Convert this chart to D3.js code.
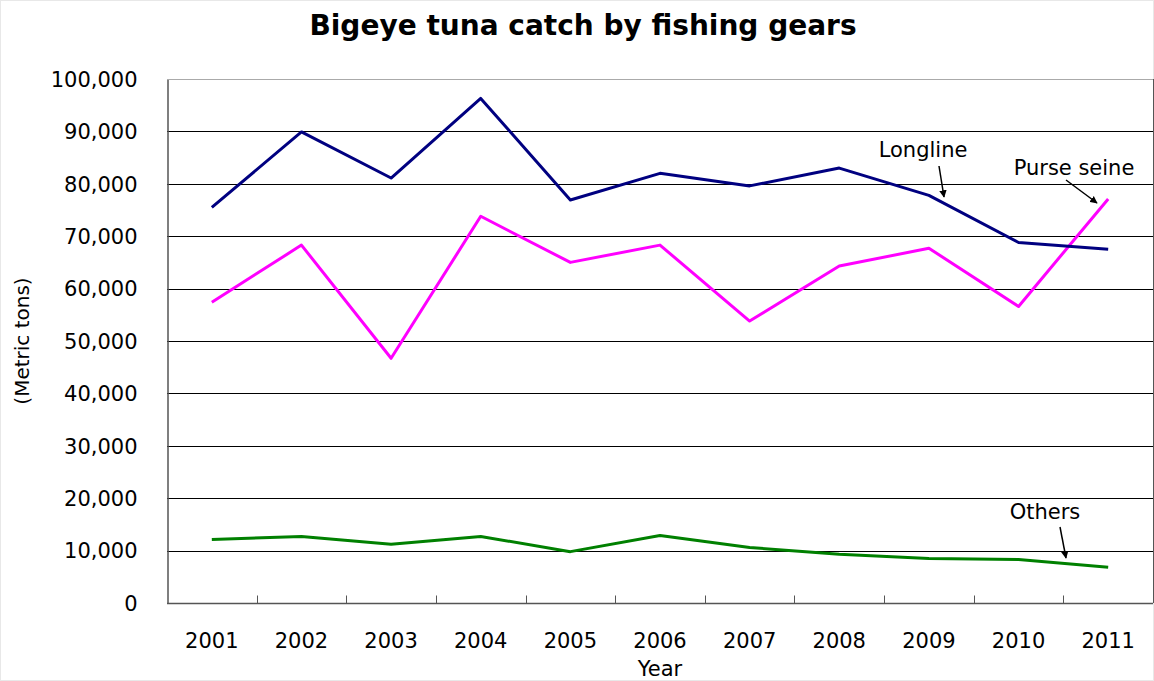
<!DOCTYPE html>
<html>
<head>
<meta charset="utf-8">
<script src="https://cdn.jsdelivr.net/npm/d3@7"></script>
<style>
  body { margin: 0; background: #fff; }
  text { font-family: "DejaVu Sans", sans-serif; fill: #000; }
</style>
</head>
<body>
<svg id="chart" width="1154" height="681"></svg>
<script>
const years = ["2001", "2002", "2003", "2004", "2005", "2006", "2007", "2008", "2009", "2010", "2011"];
const longline = [75500, 89900, 81100, 96300, 76900, 82000, 79600, 83000, 77800, 68800, 67500];
const purseSeine = [57400, 68300, 46700, 73800, 65000, 68300, 53800, 64300, 67700, 56600, 77100];
const others = [12100, 12700, 11200, 12700, 9800, 12900, 10600, 9300, 8500, 8300, 6800];
const yTicks = [0, 10000, 20000, 30000, 40000, 50000, 60000, 70000, 80000, 90000, 100000];

const svg = d3.select("#chart");
const plotL = 167, plotR = 1153, plotT = 79, plotB = 603;

const x = d3.scaleBand().domain(years).range([plotL, plotR]);
const y = d3.scaleLinear().domain([0, 100000]).range([plotB, plotT]);

// outer frame
svg.append("rect")
  .attr("x", 0.5).attr("y", 0.5).attr("width", 1153).attr("height", 680)
  .attr("fill", "none").attr("stroke", "#e8e8e8");

svg.append("text")
  .attr("x", 583).attr("y", 35)
  .attr("text-anchor", "middle")
  .style("font-size", "28px").style("font-weight", "bold")
  .text("Bigeye tuna catch by fishing gears");

// gridlines
svg.append("g")
  .selectAll("line")
  .data(yTicks.filter(d => d > 0))
  .enter().append("line")
  .attr("x1", plotL).attr("x2", plotR)
  .attr("y1", d => Math.round(y(d)) + 0.5).attr("y2", d => Math.round(y(d)) + 0.5)
  .attr("stroke", d => d === 100000 ? "#aaa" : "#000")
  .attr("stroke-width", 1);

// right border of plot
svg.append("line")
  .attr("x1", plotR + 0.5).attr("x2", plotR + 0.5)
  .attr("y1", plotT).attr("y2", plotB)
  .attr("stroke", "#555");

// y axis
const yAxis = svg.append("g").attr("transform", `translate(${plotL + 0.5},0.5)`)
  .call(d3.axisLeft(y).tickValues(yTicks).tickFormat(d3.format(",")).tickSize(0).tickPadding(30));
yAxis.select(".domain").attr("stroke", "#555").attr("stroke-width", 1.5);
yAxis.selectAll("text").style("font-size", "21px").style("font-family", "DejaVu Sans");

// x axis
const xAxis = svg.append("g").attr("transform", `translate(0,${plotB + 0.5})`);
xAxis.append("line").attr("x1", plotL).attr("x2", plotR).attr("stroke", "#555").attr("stroke-width", 1.5);
xAxis.selectAll("line.tk")
  .data(years.slice(1))
  .enter().append("line")
  .attr("class", "tk")
  .attr("x1", d => Math.round(x(d)) + 0.5).attr("x2", d => Math.round(x(d)) + 0.5)
  .attr("y1", 0).attr("y2", -8)
  .attr("stroke", "#555");
xAxis.selectAll("text")
  .data(years)
  .enter().append("text")
  .attr("x", d => x(d) + x.bandwidth() / 2)
  .attr("y", 44)
  .attr("text-anchor", "middle")
  .style("font-size", "21px")
  .text(d => d);

svg.append("text")
  .attr("x", 660).attr("y", 676)
  .attr("text-anchor", "middle")
  .style("font-size", "21px")
  .text("Year");

svg.append("text")
  .attr("transform", "translate(29,341) rotate(-90)")
  .attr("text-anchor", "middle")
  .style("font-size", "20px")
  .text("(Metric tons)");

// series
const line = d3.line()
  .x((d, i) => x(years[i]) + x.bandwidth() / 2)
  .y(d => y(d));

const series = [
  { values: others, color: "#008000" },
  { values: purseSeine, color: "#ff00ff" },
  { values: longline, color: "#000080" }
];
svg.append("g")
  .selectAll("path")
  .data(series)
  .enter().append("path")
  .attr("d", d => line(d.values))
  .attr("fill", "none")
  .attr("stroke", d => d.color)
  .attr("stroke-width", 3)
  .attr("stroke-linejoin", "round");

// annotations
svg.append("defs").append("marker")
  .attr("id", "arrow")
  .attr("viewBox", "0 0 10 10")
  .attr("refX", 9).attr("refY", 5)
  .attr("markerWidth", 5).attr("markerHeight", 5)
  .attr("orient", "auto")
  .append("path").attr("d", "M0,0L10,5L0,10z").attr("fill", "#000");

const notes = [
  { label: "Longline", tx: 923, ty: 157, x1: 939, y1: 166, x2: 944, y2: 197 },
  { label: "Purse seine", tx: 1074, ty: 175, x1: 1066, y1: 180, x2: 1097, y2: 203 },
  { label: "Others", tx: 1045, ty: 519, x1: 1060, y1: 527, x2: 1066, y2: 558 }
];
const ng = svg.append("g");
ng.selectAll("text")
  .data(notes).enter().append("text")
  .attr("x", d => d.tx).attr("y", d => d.ty)
  .attr("text-anchor", "middle")
  .style("font-size", "21px")
  .text(d => d.label);
ng.selectAll("line")
  .data(notes).enter().append("line")
  .attr("x1", d => d.x1).attr("y1", d => d.y1)
  .attr("x2", d => d.x2).attr("y2", d => d.y2)
  .attr("stroke", "#000").attr("stroke-width", 1.5)
  .attr("marker-end", "url(#arrow)");
</script>
</body>
</html>
